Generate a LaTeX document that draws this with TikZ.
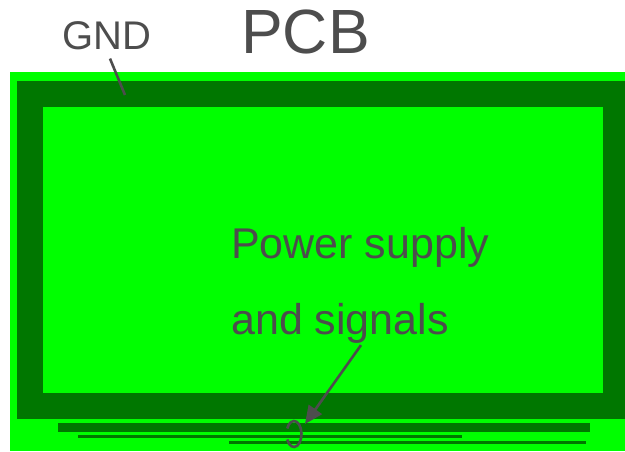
\documentclass[tikz,border=0pt]{standalone}
\usepackage{fontspec}
\setmainfont{Liberation Sans}
\usepackage{xcolor}
\definecolor{pcbgreen}{RGB}{0,255,0}
\definecolor{gndgreen}{RGB}{0,119,0}
\definecolor{inkgray}{RGB}{77,77,77}
\usetikzlibrary{arrows.meta,calc}
\tikzset{
  board/.style ={fill=pcbgreen,draw=none},
  plane/.style ={fill=gndgreen,draw=none},
  lbl/.style   ={text=inkgray,inner sep=0pt,anchor=base west},
  leader/.style={line width=2.6pt,draw=inkgray},
  flow/.style  ={-{Triangle[length=18pt,width=16pt]},line width=2.6pt,draw=inkgray},
}
\begin{document}
\begin{tikzpicture}[x=1pt,y=-1pt]
  \useasboundingbox (0,0) rectangle (625,451);
  % board and ground ring
  \fill[board] (10,72) rectangle (625,451);
  \fill[plane] (17,81) rectangle (625,419);
  \fill[board] (43,107) rectangle (603,393);
  % traces along the lower edge
  \fill[plane] (58,423) rectangle (590,432);
  \fill[plane] (78,435) rectangle (462,438);
  \fill[plane] (229,441) rectangle (586,444);
  % labels
  \node[lbl,font=\fontsize{62.5}{66}\selectfont] (pcb) at (241,53) {PCB};
  \node[lbl,font=\fontsize{40}{44}\selectfont] (gnd) at (62,49) {GND};
  \node[lbl,font=\fontsize{43}{47}\selectfont] (pwr) at (231,258) {Power supply};
  \node[lbl,font=\fontsize{43}{47}\selectfont] (sig) at (231,334) {and signals};
  \coordinate (ring) at (125,95);
  \coordinate (feed) at (305,424);
  \coordinate (loop) at (294,434);
  % connectors
  \draw[leader] ([shift={(48,9)}]gnd.south west) -- (ring);
  \draw[flow] ([shift={(130,2)}]sig.south west) -- (feed);
  \draw[leader] (loop) ++(155:7.5 and 13) arc[start angle=155,end angle=-155,x radius=7.5,y radius=13];
\end{tikzpicture}
\end{document}
